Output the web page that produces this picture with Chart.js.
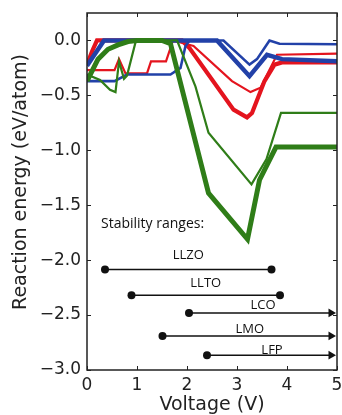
<!DOCTYPE html>
<html>
<head>
<meta charset="utf-8">
<style>
  html, body { margin: 0; padding: 0; background: #fff; }
  #wrap { width: 342px; height: 415px; }
</style>
</head>
<body>
<div id="wrap"><canvas id="chart"></canvas></div>
<script src="https://cdn.jsdelivr.net/npm/chart.js"></script>
<script>

    // axis ticks
    const voltTicks = [0, 1, 2, 3, 4, 5];
    const energyTicks = [0, -0.5, -1, -1.5, -2, -2.5, -3];

    // reaction energy curves: voltage (V) / energy (eV/atom)
    const greenThickV = [0, 0.22, 0.42, 0.62, 0.82, 1.0, 1.5, 1.67, 2.43, 3.21, 3.45, 3.78, 5];
    const greenThickE = [-0.37, -0.17, -0.08, -0.04, -0.01, 0, 0, -0.03, -1.39, -1.81, -1.27, -0.97, -0.97];

    const greenThinV = [0, 0.26, 0.46, 0.57, 0.64, 0.74, 0.8, 0.98, 1.8, 2.17, 2.43, 3.29, 3.59, 3.88, 5];
    const greenThinE = [-0.31, -0.36, -0.45, -0.47, -0.19, -0.35, -0.32, 0, 0, -0.42, -0.84, -1.31, -1.08, -0.66, -0.66];

    const blueThickV = [0, 0.34, 2.6, 3.25, 3.6, 3.9, 5];
    const blueThickE = [-0.23, 0, 0, -0.325, -0.13, -0.17, -0.19];

    const blueThinV = [0, 0.55, 0.8, 1.67, 1.87, 1.97, 2.05, 2.73, 3.25, 3.4, 3.65, 3.85, 5];
    const blueThinE = [-0.37, -0.37, -0.31, -0.31, -0.25, -0.05, 0, 0, -0.22, -0.17, 0, -0.03, -0.035];

    const redThickV = [0, 0.1, 0.2, 1.9, 2.05, 2.93, 3.2, 3.3, 3.55, 3.75, 3.9, 5];
    const redThickE = [-0.22, -0.1, 0, 0, -0.07, -0.63, -0.70, -0.66, -0.37, -0.22, -0.2, -0.2];

    const redThinV = [0, 0.55, 0.64, 0.77, 1.2, 1.28, 1.58, 1.72, 2.13, 2.9, 3.27, 3.47, 3.8, 5];
    const redThinE = [-0.27, -0.27, -0.17, -0.3, -0.3, -0.19, -0.19, 0, -0.05, -0.37, -0.47, -0.43, -0.13, -0.12];

    // stability ranges
    const rangeNames = ['LLZO', 'LLTO', 'LCO', 'LMO', 'LFP'];
    const rangeStart = [0.36, 0.89, 2.04, 1.51, 2.4];
    const rangeEnd = [3.69, 3.86, 4.88, 4.88, 4.88];
    const rangeLevel = [-2.085, -2.32, -2.48, -2.69, -2.865];
    const rangeOpen = [false, false, true, true, true];
    const rangeLabelLevel = [-1.96, -2.21, -2.41, -2.63, -2.82];
    const rangesTitle = 'Stability ranges:';
    const rangesTitleAt = [0.28, -1.67];

    const GREEN = '#2f7d18';
    const BLUE = '#2241a8';
    const RED = '#e4141e';
    const INK = '#222';

    function pts(xs, ys) {
        return xs.map((x, i) => ({x: x, y: ys[i]}));
    }

    function curve(xs, ys, color, width, order) {
        return {
            data: pts(xs, ys),
            borderColor: color,
            borderWidth: width,
            pointRadius: 0,
            tension: 0,
            fill: false,
            clip: 0,
            order: order
        };
    }

    let datasets = [
        curve(greenThickV, greenThickE, GREEN, 5, 1),
        curve(greenThinV, greenThinE, GREEN, 2.2, 2),
        curve(blueThickV, blueThickE, BLUE, 4.5, 3),
        curve(blueThinV, blueThinE, BLUE, 2.6, 4),
        curve(redThickV, redThickE, RED, 4.2, 5),
        curve(redThinV, redThinE, RED, 2.2, 6)
    ];

    for (let i = 0; i < rangeNames.length; i++) {
        datasets.push({
            data: pts([rangeStart[i], rangeEnd[i]], [rangeLevel[i], rangeLevel[i]]),
            borderColor: '#111',
            borderWidth: 1.5,
            pointStyle: ['circle', rangeOpen[i] ? 'triangle' : 'circle'],
            pointRotation: [0, rangeOpen[i] ? 90 : 0],
            pointRadius: [4, rangeOpen[i] ? 5 : 4],
            pointBackgroundColor: '#111',
            pointBorderWidth: 0,
            clip: false,
            order: 0
        });
    }

    const frame = {
        id: 'frame',
        afterDatasetsDraw(chart) {
            const c = chart.ctx, a = chart.chartArea;
            const xs = chart.scales.x, ys = chart.scales.y;
            c.save();
            c.strokeStyle = INK;
            c.lineWidth = 1.5;
            c.strokeRect(a.left, a.top, a.right - a.left, a.bottom - a.top);
            c.lineWidth = 1;
            c.beginPath();
            voltTicks.forEach(v => {
                let px = Math.round(xs.getPixelForValue(v)) + 0.5;
                c.moveTo(px, a.bottom); c.lineTo(px, a.bottom - 4);
                c.moveTo(px, a.top); c.lineTo(px, a.top + 4);
            });
            energyTicks.forEach(v => {
                let py = Math.round(ys.getPixelForValue(v)) + 0.5;
                c.moveTo(a.left, py); c.lineTo(a.left + 4, py);
                c.moveTo(a.right, py); c.lineTo(a.right - 4, py);
            });
            c.stroke();

            // range labels
            c.fillStyle = '#111';
            c.textBaseline = 'middle';
            c.textAlign = 'left';
            c.font = '14px "Open Sans"';
            c.fillText(rangesTitle, xs.getPixelForValue(rangesTitleAt[0]), ys.getPixelForValue(rangesTitleAt[1]));
            c.font = '13px "Open Sans"';
            c.textAlign = 'center';
            for (let i = 0; i < rangeNames.length; i++) {
                let right = rangeOpen[i] ? 5 : rangeEnd[i];
                let mid = (rangeStart[i] + right) / 2;
                c.fillText(rangeNames[i], xs.getPixelForValue(mid), ys.getPixelForValue(rangeLabelLevel[i]));
            }

            // axis titles
            c.fillStyle = INK;
            c.font = '19px "DejaVu Sans"';
            c.textAlign = 'center';
            c.textBaseline = 'middle';
            c.fillText('Voltage (V)', (a.left + a.right) / 2, 405);
            c.translate(21, 182);
            c.rotate(-Math.PI / 2);
            c.fillText('Reaction energy (eV/atom)', 0, 0);
            c.restore();
        }
    };

    const ctx = document.getElementById('chart');
    const chart = new Chart(ctx, {
        type: 'line',
        data: {datasets: datasets},
        plugins: [frame],
        options: {
            responsive: true,
            maintainAspectRatio: false,
            animation: false,
            layout: {padding: {top: 13, right: 4, left: 0, bottom: 0}},
            plugins: {legend: {display: false}, tooltip: {enabled: false}},
            scales: {
                x: {
                    type: 'linear',
                    min: 0,
                    max: 5,
                    grid: {display: false, drawTicks: false},
                    border: {display: false},
                    afterBuildTicks: s => { s.ticks = voltTicks.map(v => ({value: v})); },
                    afterFit: s => { s.height = 45; s.paddingLeft = 0; s.paddingRight = 0; },
                    ticks: {
                        color: INK,
                        padding: 5,
                        maxRotation: 0,
                        autoSkip: false,
                        font: {family: 'DejaVu Sans', size: 17},
                        callback: v => String(v)
                    }
                },
                y: {
                    type: 'linear',
                    min: -3,
                    max: 0.25,
                    grid: {display: false, drawTicks: false},
                    border: {display: false},
                    afterBuildTicks: s => { s.ticks = energyTicks.map(v => ({value: v})); },
                    afterFit: s => { s.width = 87; s.paddingTop = 0; s.paddingBottom = 0; },
                    ticks: {
                        color: INK,
                        padding: 6,
                        autoSkip: false,
                        font: {family: 'DejaVu Sans', size: 17},
                        callback: v => v.toFixed(1).replace('-', '\u2212')
                    }
                }
            }
        }
    });

</script>
</body>
</html>
